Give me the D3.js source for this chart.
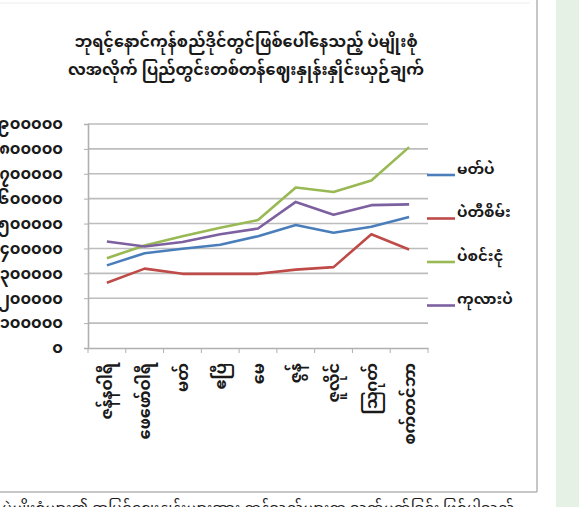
<!DOCTYPE html>
<html>
<head>
<meta charset="utf-8">
<script src="https://cdn.jsdelivr.net/npm/d3@7"></script>
<style>
  body { margin: 0; background: #fff; }
  text { font-family: "Noto Sans Myanmar", "Padauk", "Myanmar Text", "Myanmar3", "DejaVu Sans", sans-serif; fill: #1a1a1a; }
</style>
</head>
<body>
<svg id="main" width="579" height="507"></svg>
<script>
// months
var months = ["ဇန်နဝါရီ", "ဖေဖော်ဝါရီ", "မတ်", "ဧပြီ", "မေ", "ဇွန်", "ဇူလိုင်", "ဩဂုတ်", "စက်တင်ဘာ"];

var seriesNames = ["မတ်ပဲ", "ပဲတီစိမ်း", "ပဲစင်းငုံ", "ကုလားပဲ"];
var seriesColors = ["#4a7ebb", "#be4b48", "#98b954", "#7d60a0"];

var matpe    = [332000, 381000, 399000, 415000, 449000, 494000, 463000, 487000, 526000];
var greenGram = [262000, 319000, 298000, 298000, 298000, 315000, 325000, 457000, 396000];
var pigeonPea = [361000, 412000, 449000, 483000, 514000, 645000, 627000, 673000, 807000];
var chickpea  = [428000, 408000, 426000, 457000, 480000, 587000, 535000, 574000, 577000];

var yTicks = [0, 100000, 200000, 300000, 400000, 500000, 600000, 700000, 800000, 900000];
var yTickLabels = ["၀", "၁၀၀၀၀၀", "၂၀၀၀၀၀", "၃၀၀၀၀၀", "၄၀၀၀၀၀", "၅၀၀၀၀၀", "၆၀၀၀၀၀", "၇၀၀၀၀၀", "၈၀၀၀၀၀", "၉၀၀၀၀၀"];

var titleLines = ["ဘုရင့်နောင်ကုန်စည်ဒိုင်တွင်ဖြစ်ပေါ်နေသည့် ပဲမျိုးစုံ", "လအလိုက် ပြည်တွင်းတစ်တန်ဈေးနှုန်းနှိုင်းယှဉ်ချက်"];

var allSeries = [matpe, greenGram, pigeonPea, chickpea];

var svg = d3.select("#main");

// page bits around the chart
svg.append("rect").attr("x", 556).attr("y", 0).attr("width", 23).attr("height", 507).attr("fill", "#e5f1e4");
svg.append("line").attr("x1", 537).attr("x2", 537).attr("y1", 0).attr("y2", 492)
   .attr("stroke", "#b5b5b5").attr("stroke-width", 1.5);
svg.append("line").attr("x1", 0).attr("x2", 537).attr("y1", 492).attr("y2", 492)
   .attr("stroke", "#b5b5b5").attr("stroke-width", 1.5);
svg.append("line").attr("x1", 0).attr("x2", 530).attr("y1", 3).attr("y2", 3)
   .attr("stroke", "#ececec").attr("stroke-width", 1);
svg.append("text").attr("x", 2).attr("y", 513).style("font-size", "15px")
   .text("ပဲမျိုးစုံများ၏ အပြင်ဈေးနှုန်းများအား ကုန်သည်များက သတ်မှတ်ခြင်း ဖြစ်ပါသည်");

// title
var title = svg.append("text").attr("text-anchor", "middle").style("font-size", "16px").style("font-weight", "bold");
titleLines.forEach(function(t, i){
    title.append("tspan").attr("x", 246).attr("y", 47 + i * 28).text(t);
});

var x = d3.scaleBand().domain(months).range([88, 428]);
var y = d3.scaleLinear().domain([0, 900000]).range([348, 124]);

// gridlines
svg.append("g").selectAll("line")
   .data(yTicks.slice(1))
   .enter().append("line")
   .attr("x1", 88).attr("x2", 428)
   .attr("y1", d => y(d)).attr("y2", d => y(d))
   .attr("stroke", "#bdbdbd").attr("stroke-width", 1.6);

// y axis
var yAxis = d3.axisLeft(y).tickValues(yTicks).tickSize(4)
   .tickFormat((d, i) => yTickLabels[i]);
var yg = svg.append("g").attr("transform", "translate(88,0)").call(yAxis);
yg.select(".domain").attr("stroke", "#b0b0b0").attr("stroke-width", 1.6);
yg.selectAll(".tick line").attr("stroke", "#b0b0b0");
yg.selectAll(".tick text").attr("x", -25).attr("dy", "0.3em").style("font-size", "16px").style("font-weight", "bold")
  .style("font-family", "\"Noto Sans Myanmar\", \"Padauk\", sans-serif").attr("fill", "#222");

// x axis
var xAxis = d3.axisBottom(x).tickSize(5).tickSizeOuter(0);
var xg = svg.append("g").attr("transform", "translate(0,348)").call(xAxis);
xg.select(".domain").attr("stroke", "#b0b0b0").attr("stroke-width", 1.6);
xg.selectAll(".tick line").attr("stroke", "#b0b0b0")
  .attr("transform", "translate(" + (-x.bandwidth() / 2) + ",0)");
xg.append("line").attr("x1", 428).attr("x2", 428).attr("y1", 0).attr("y2", 5).attr("stroke", "#b0b0b0");
xg.selectAll(".tick text")
  .attr("transform", "rotate(-90)")
  .attr("x", -15).attr("y", 0).attr("dy", "0.35em")
  .attr("text-anchor", "end")
  .style("font-size", "16px").style("font-weight", "bold")
  .style("font-family", "\"Noto Sans Myanmar\", \"Padauk\", sans-serif").attr("fill", "#222");

// lines
var line = d3.line()
   .x((d, i) => x(months[i]) + x.bandwidth() / 2)
   .y(d => y(d));

svg.append("g").selectAll("path")
   .data(allSeries)
   .enter().append("path")
   .attr("d", line)
   .attr("fill", "none")
   .attr("stroke", (d, i) => seriesColors[i])
   .attr("stroke-width", 2.6)
   .attr("stroke-linejoin", "round");

// legend
var legend = svg.append("g").selectAll("g")
   .data(seriesNames)
   .enter().append("g")
   .attr("transform", (d, i) => "translate(427," + (175 + i * 43.5) + ")");
legend.append("line").attr("x1", 0).attr("x2", 28)
   .attr("stroke", (d, i) => seriesColors[i]).attr("stroke-width", 2.6);
legend.append("text").attr("x", 30).attr("y", 0).attr("dy", "-0.1em")
   .style("font-size", "15px").style("font-weight", "bold")
   .text(d => d);
</script>
</body>
</html>
